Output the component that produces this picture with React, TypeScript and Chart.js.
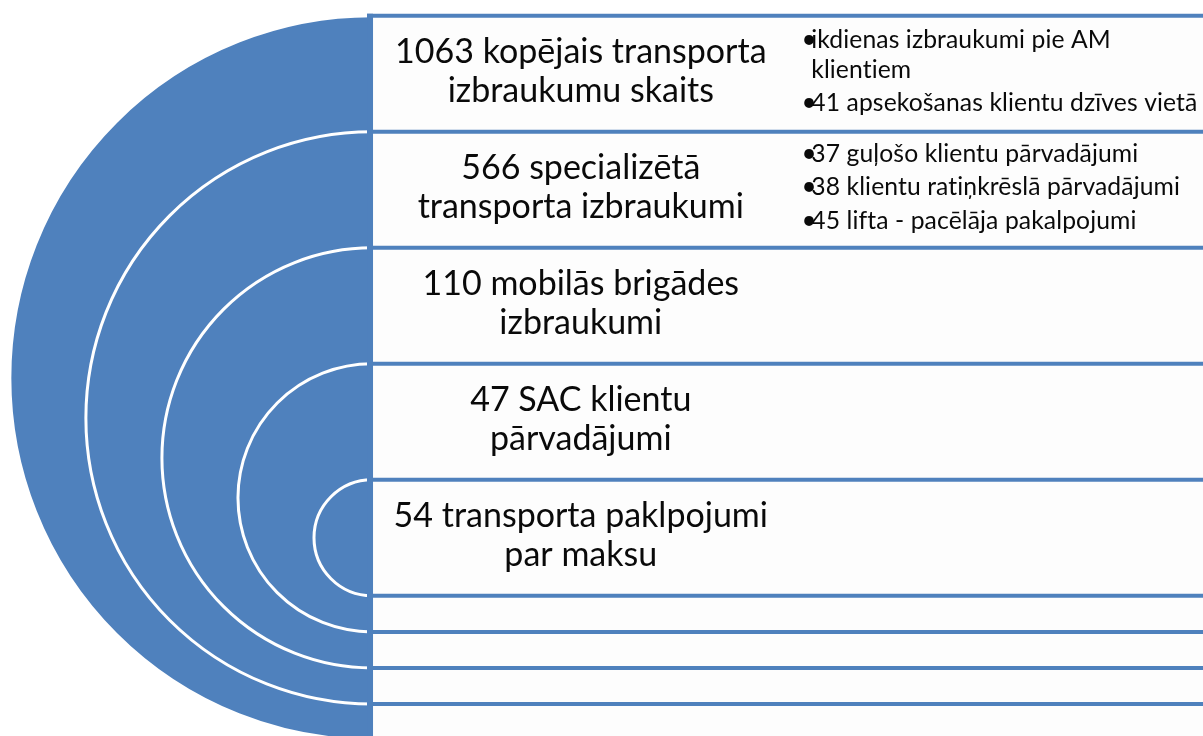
import React, { useEffect, useRef } from 'react';
import { Chart, registerables } from 'chart.js';

Chart.register(...registerables);

// ---------------- data ----------------
const counts = [1063, 566, 110, 47, 54];
const categories = [
  'kopējais transporta\nizbraukumu skaits',
  'specializētā\ntransporta izbraukumi',
  'mobilās brigādes\nizbraukumi',
  'SAC klientu\npārvadājumi',
  'transporta paklpojumi\npar maksu',
];
const details = [
  ['ikdienas izbraukumi pie AM\nklientiem', '41 apsekošanas klientu dzīves vietā'],
  ['37 guļošo klientu pārvadājumi', '38 klientu ratiņkrēslā pārvadājumi', '45 lifta - pacēlāja pakalpojumi'],
  [],
  [],
  [],
];
const emptyRows = 4;

// ---------------- layout / style ----------------
const BLUE = '#4F81BD';
const PANEL = '#FDFDFD';
const MAIN_ROW = 1;
const THIN_ROW = 0.311;
const rowWeights = [...categories.map(() => MAIN_ROW), ...Array(emptyRows).fill(THIN_ROW)];
const bounds = rowWeights.reduce((acc: number[], w: number) => [...acc, acc[acc.length - 1] + w], [0]);
const N = bounds.length - 1;

const X_MIN = -3.207;
const X_MAX = 7.164;
const Y_MIN = -0.1362;
const Y_MAX = 6.2086;
const LINE_X0 = -0.043;
const BORDER_X = -0.017;
const LABEL_X = 1.8;
const BULLET_X = 3.703;
const DETAIL_X = 3.787;

const FONT = 'Lato, "Open Sans", sans-serif';

const textPlugin = {
  id: 'rowText',
  afterDatasetsDraw(chart: any) {
    const { ctx, scales } = chart;
    const xs = scales.x;
    const ys = scales.y;
    ctx.save();
    ctx.fillStyle = '#0a0a0a';
    ctx.textBaseline = 'alphabetic';
    // main labels
    ctx.textAlign = 'center';
    ctx.font = `34px ${FONT}`;
    const lh = 38.5;
    categories.forEach((cat, i) => {
      const lines = `${counts[i]} ${cat}`.split('\n');
      const cy = ys.getPixelForValue((bounds[i] + bounds[i + 1]) / 2);
      const cx = xs.getPixelForValue(LABEL_X);
      lines.forEach((ln, j) => {
        ctx.fillText(ln, cx, cy + (j - (lines.length - 1) / 2) * lh + 8.5);
      });
    });
    // detail bullets
    ctx.textAlign = 'left';
    if ('letterSpacing' in ctx) (ctx as any).letterSpacing = '0.1px';
    details.forEach((items, i) => {
      if (!items.length) return;
      const pos: { t: string; y: number; bullet: boolean }[] = [];
      let p = 0;
      items.forEach((it, k) => {
        if (k > 0) p += 33.3;
        it.split('\n').forEach((ln, j) => {
          if (j > 0) p += 30;
          pos.push({ t: ln, y: p, bullet: j === 0 });
        });
      });
      const cy = ys.getPixelForValue((bounds[i] + bounds[i + 1]) / 2);
      const off = cy + 5.5 - p / 2;
      pos.forEach((o) => {
        if (o.bullet) {
          ctx.font = `26px ${FONT}`;
          ctx.fillText('•', xs.getPixelForValue(BULLET_X), off + o.y);
        }
        ctx.font = `24.7px ${FONT}`;
        ctx.fillText(o.t, xs.getPixelForValue(DETAIL_X), off + o.y);
      });
    });
    ctx.restore();
  },
};

export default function App() {
  const ref = useRef<HTMLCanvasElement | null>(null);
  useEffect(() => {
    if (!ref.current) return;
    const datasets: any[] = [];
    // concentric half-rings (right halves hidden under the panel)
    datasets.push({
      type: 'bubble',
      data: categories.map((_, i) => ({ x: 0, y: (bounds[i] + bounds[N - i]) / 2 })),
      backgroundColor: BLUE,
      borderColor: '#ffffff',
      borderWidth: 3,
      clip: false,
      order: 4,
    });
    // panel background
    datasets.push({
      type: 'line',
      data: [
        { x: 0, y: bounds[0] },
        { x: X_MAX, y: bounds[0] },
      ],
      fill: { value: bounds[N] },
      backgroundColor: PANEL,
      borderWidth: 0,
      pointRadius: 0,
      order: 3,
    });
    // row separators
    bounds.forEach((b) => {
      datasets.push({
        type: 'line',
        data: [
          { x: LINE_X0, y: b },
          { x: X_MAX, y: b },
        ],
        borderColor: BLUE,
        borderWidth: 4,
        pointRadius: 0,
        fill: false,
        order: 2,
      });
    });
    // panel left border
    datasets.push({
      type: 'line',
      data: [
        { x: BORDER_X, y: bounds[0] - 0.017 },
        { x: BORDER_X, y: bounds[N] },
      ],
      borderColor: BLUE,
      borderWidth: 6,
      pointRadius: 0,
      fill: false,
      order: 1,
    });

    const chart = new Chart(ref.current, {
      type: 'line',
      data: { datasets },
      options: {
        animation: false,
        responsive: false,
        events: [],
        layout: { padding: 0, autoPadding: false },
        plugins: {
          legend: { display: false },
          tooltip: { enabled: false },
          title: { display: false },
        },
        scales: {
          x: { type: 'linear', min: X_MIN, max: X_MAX, display: false },
          y: { type: 'linear', min: Y_MIN, max: Y_MAX, reverse: true, display: false },
        },
      },
      plugins: [textPlugin],
    } as any);

    // bubble radii: half the pixel span between a row's top boundary and its mirrored boundary
    const ys = chart.scales.y;
    const ring = chart.data.datasets[0] as any;
    ring.data = categories.map((_, i) => ({
      x: 0,
      y: (bounds[i] + bounds[N - i]) / 2,
      r: Math.abs(ys.getPixelForValue(bounds[N - i]) - ys.getPixelForValue(bounds[i])) / 2,
    }));
    chart.update();

    return () => chart.destroy();
  }, []);

  return (
    <div style={{ position: 'absolute', left: 0, top: 0, width: 1203, height: 736, background: '#fff' }}>
      <canvas ref={ref} width={1203} height={736} style={{ display: 'block' }} />
    </div>
  );
}
